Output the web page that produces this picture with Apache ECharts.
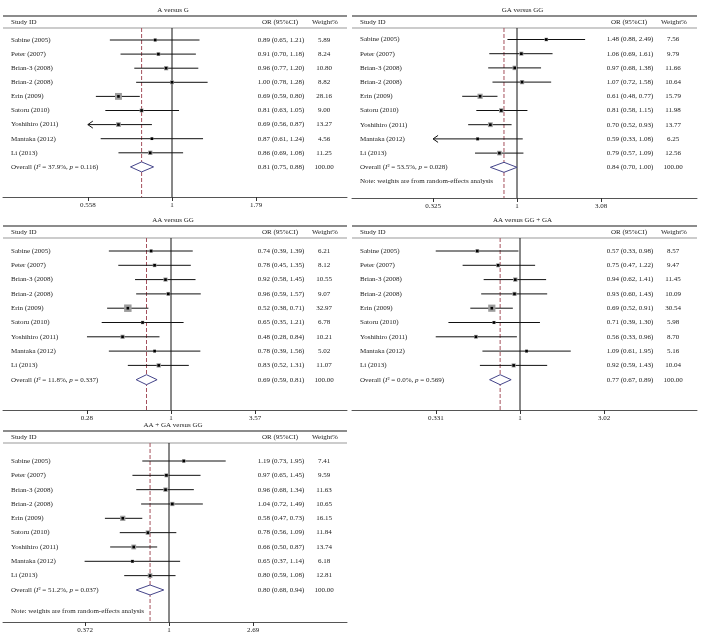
<!DOCTYPE html>
<html><head><meta charset="utf-8">
<script src="https://cdn.jsdelivr.net/npm/echarts@6/dist/echarts.min.js"></script>
<style>html,body{margin:0;padding:0;background:#fff}#c{width:703px;height:637px}</style>
</head><body><div id="c"></div>
<script>
// ---------------- DATA ----------------
const studies = ['Sabine (2005)','Peter (2007)','Brian-3 (2008)','Brian-2 (2008)','Erin (2009)','Satoru (2010)','Yoshihiro (2011)','Mantaka (2012)','Li (2013)'];

const titleA = 'A versus G';
const orA = [0.89,0.91,0.96,1.00,0.69,0.81,0.69,0.87,0.86];
const loA = [0.65,0.70,0.77,0.78,0.59,0.63,0.56,0.61,0.69];
const hiA = [1.21,1.18,1.20,1.28,0.80,1.05,0.87,1.24,1.08];
const wA  = [5.89,8.24,10.80,8.82,28.16,9.00,13.27,4.56,11.25];
const overallA = [0.81,0.75,0.88];
const hetA = ['37.9%','0.116'];
const ticksA = [0.558,1,1.79];
const tickLabelsA = ['0.558','1','1.79'];
const arrowsA = [6];

const titleB = 'GA versus GG';
const orB = [1.48,1.06,0.97,1.07,0.61,0.81,0.70,0.59,0.79];
const loB = [0.88,0.69,0.68,0.72,0.48,0.58,0.52,0.33,0.57];
const hiB = [2.49,1.61,1.38,1.58,0.77,1.15,0.93,1.08,1.09];
const wB  = [7.56,9.79,11.66,10.64,15.79,11.98,13.77,6.25,12.56];
const overallB = [0.84,0.70,1.00];
const hetB = ['53.5%','0.028'];
const ticksB = [0.325,1,3.08];
const tickLabelsB = ['0.325','1','3.08'];
const arrowsB = [7];

const titleC = 'AA versus GG';
const orC = [0.74,0.78,0.92,0.96,0.52,0.65,0.48,0.78,0.83];
const loC = [0.39,0.45,0.58,0.59,0.38,0.35,0.28,0.39,0.52];
const hiC = [1.39,1.35,1.45,1.57,0.71,1.21,0.84,1.56,1.31];
const wC  = [6.21,8.12,10.55,9.07,32.97,6.78,10.21,5.02,11.07];
const overallC = [0.69,0.59,0.81];
const hetC = ['11.8%','0.337'];
const ticksC = [0.28,1,3.57];
const tickLabelsC = ['0.28','1','3.57'];
const arrowsC = [];

const titleD = 'AA versus GG + GA';
const orD = [0.57,0.75,0.94,0.93,0.69,0.71,0.56,1.09,0.92];
const loD = [0.33,0.47,0.62,0.60,0.52,0.39,0.33,0.61,0.59];
const hiD = [0.98,1.22,1.41,1.43,0.91,1.30,0.96,1.95,1.43];
const wD  = [8.57,9.47,11.45,10.09,30.54,5.98,8.70,5.16,10.04];
const overallD = [0.77,0.67,0.89];
const hetD = ['0.0%','0.569'];
const ticksD = [0.331,1,3.02];
const tickLabelsD = ['0.331','1','3.02'];
const arrowsD = [];

const titleE = 'AA + GA versus GG';
const orE = [1.19,0.97,0.96,1.04,0.58,0.78,0.66,0.65,0.80];
const loE = [0.73,0.65,0.68,0.72,0.47,0.56,0.50,0.37,0.59];
const hiE = [1.95,1.45,1.34,1.49,0.73,1.09,0.87,1.14,1.08];
const wE  = [7.41,9.59,11.63,10.65,16.15,11.84,13.74,6.18,12.81];
const overallE = [0.80,0.68,0.94];
const hetE = ['51.2%','0.037'];
const ticksE = [0.372,1,2.69];
const tickLabelsE = ['0.372','1','2.69'];
const arrowsE = [];

const noteText = 'Note: weights are from random-effects analysis';

// ---------------- LAYOUT ----------------
const panels = [
  {title:titleA, or:orA, lo:loA, hi:hiA, w:wA, overall:overallA, het:hetA, ticks:ticksA, tickLabels:tickLabelsA, arrows:arrowsA, note:null,
   left:3, width:344, top:28, first:40, step:14.1, axisY:197, one:169},
  {title:titleB, or:orB, lo:loB, hi:hiB, w:wB, overall:overallB, het:hetB, ticks:ticksB, tickLabels:tickLabelsB, arrows:arrowsB, note:10.0,
   left:352, width:345, top:28, first:39.5, step:14.2, axisY:198, one:165},
  {title:titleC, or:orC, lo:loC, hi:hiC, w:wC, overall:overallC, het:hetC, ticks:ticksC, tickLabels:tickLabelsC, arrows:arrowsC, note:null,
   left:3, width:344, top:238, first:251, step:14.3, axisY:410, one:168},
  {title:titleD, or:orD, lo:loD, hi:hiD, w:wD, overall:overallD, het:hetD, ticks:ticksD, tickLabels:tickLabelsD, arrows:arrowsD, note:null,
   left:352, width:345, top:238, first:251, step:14.3, axisY:410, one:168},
  {title:titleE, or:orE, lo:loE, hi:hiE, w:wE, overall:overallE, het:hetE, ticks:ticksE, tickLabels:tickLabelsE, arrows:arrowsE, note:10.5,
   left:3, width:344, top:443, first:461, step:14.33, axisY:622, one:166}
];
const FONT = '"Liberation Serif", "DejaVu Serif", serif';
const FS = 7;
const TXT = '#222';
const TICK_GAP = 84;

const grids = [], xAxes = [], yAxes = [], series = [], graphics = [];

panels.forEach((p, k) => {
  const ppl = TICK_GAP / Math.log(p.ticks[2]);
  const xmin = Math.exp(-p.one / ppl);
  const xmax = Math.exp((p.width - p.one) / ppl);
  const ymin = -(p.first - p.top) / p.step;
  const ymax = (p.axisY - p.first) / p.step;
  grids.push({left:p.left, top:p.top, width:p.width, height:p.axisY - p.top, containLabel:false});
  xAxes.push({
    type:'log', gridIndex:k, min:xmin, max:xmax, logBase:10,
    axisLine:{show:true, onZero:false, lineStyle:{color:'#555', width:1}},
    axisTick:{show:true, customValues:p.ticks, length:4, inside:false, lineStyle:{color:'#333', width:1}},
    axisLabel:{show:true, customValues:p.ticks, margin:5, fontSize:FS, fontFamily:FONT, color:TXT,
      formatter:(v) => {
        let best = 0, bd = Infinity;
        p.ticks.forEach((t, j) => { const d = Math.abs(Math.log(v) - Math.log(t)); if (d < bd) { bd = d; best = j; } });
        return p.tickLabels[best];
      }},
    splitLine:{show:false}, minorTick:{show:false}, minorSplitLine:{show:false}
  });
  yAxes.push({type:'value', gridIndex:k, min:ymin, max:ymax, inverse:true, show:false, splitLine:{show:false}});

  // data rows: kind 3 = reference lines, 0 = study, 1 = overall, 2 = note
  const data = [];
  data.push({value:[p.overall[0], p.overall[1], p.overall[2], 0, 0, 3]});
  studies.forEach((s, i) => data.push({value:[p.or[i], p.lo[i], p.hi[i], p.w[i], i, 0], idx:i}));
  data.push({value:[p.overall[0], p.overall[1], p.overall[2], 100, 9, 1]});
  if (p.note !== null) data.push({value:[1, 1, 1, 0, p.note, 2]});

  series.push({
    type:'custom', xAxisIndex:k, yAxisIndex:k, clip:false, silent:true, animation:false,
    data:data,
    renderItem:(params, api) => {
      const cs = params.coordSys;
      const kind = api.value(5);
      const row = api.value(4);
      const y = api.coord([1, row])[1];
      const txt = (text, x, align) => ({type:'text', x:x, y:y,
        style:{text:text, fill:TXT, fontSize:FS, fontFamily:FONT, align:align, verticalAlign:'middle'}});
      if (kind === 3) {
        const x1 = api.coord([1, 0])[0];
        const xo = api.coord([api.value(0), 0])[0];
        return {type:'group', children:[
          {type:'line', shape:{x1:x1, y1:cs.y, x2:x1, y2:cs.y + cs.height}, style:{stroke:'#111', lineWidth:1}},
          {type:'line', shape:{x1:xo, y1:cs.y, x2:xo, y2:cs.y + cs.height}, style:{stroke:'#a4505c', lineWidth:1, lineDash:[4,2]}}
        ]};
      }
      if (kind === 2) {
        return {type:'group', children:[txt(noteText, cs.x + 8, 'left')]};
      }
      const orv = api.value(0), lov = api.value(1), hiv = api.value(2), wv = api.value(3);
      const xo = api.coord([orv, row])[0];
      let xl = api.coord([lov, row])[0];
      const xh = api.coord([hiv, row])[0];
      const children = [];
      const orText = orv.toFixed(2) + ' (' + lov.toFixed(2) + ', ' + hiv.toFixed(2) + ')';
      if (kind === 0) {
        const i = row;
        const arrow = p.arrows.indexOf(i) >= 0;
        if (arrow) xl = api.coord([p.ticks[0], row])[0];
        children.push({type:'line', shape:{x1:xl, y1:y, x2:xh, y2:y}, style:{stroke:'#111', lineWidth:1}});
        if (arrow) children.push({type:'polyline', shape:{points:[[xl+5, y-3.5],[xl, y],[xl+5, y+3.5]]}, style:{stroke:'#111', lineWidth:1, fill:null}});
        const s = 1.3 * Math.sqrt(wv);
        children.push({type:'rect', shape:{x:xo - s/2, y:y - s/2, width:s, height:s}, style:{fill:'#9c9c9c'}});
        children.push({type:'rect', shape:{x:xo - 1.3, y:y - 1.3, width:2.6, height:2.6}, style:{fill:'#000'}});
        children.push(txt(studies[i], cs.x + 8, 'left'));
      } else {
        const h = 5;
        children.push({type:'polygon', shape:{points:[[xl, y],[xo, y - h],[xh, y],[xo, y + h]]},
          style:{fill:'#fff', stroke:'#45458a', lineWidth:1}});
        children.push({type:'text', x:cs.x + 8, y:y, style:{
          text:'Overall ({it|I}² = ' + p.het[0] + ', {it|p} = ' + p.het[1] + ')',
          fill:TXT, fontSize:FS, fontFamily:FONT, align:'left', verticalAlign:'middle',
          rich:{it:{fontStyle:'italic', fontSize:FS, fontFamily:FONT, fill:TXT}}}});
      }
      children.push(txt(orText, cs.x + 278, 'center'));
      children.push(txt(wv.toFixed(2), cs.x + 321, 'center'));
      return {type:'group', children:children};
    }
  });

  // titles, headers, rules
  const gl = p.left, gw = p.width, t = p.top;
  graphics.push({type:'text', x:gl + gw/2 - 2, y:t - 18, style:{text:p.title, fill:TXT, fontSize:FS, fontFamily:FONT, align:'center', verticalAlign:'middle'}});
  graphics.push({type:'line', shape:{x1:gl, y1:t - 12, x2:gl + gw, y2:t - 12}, style:{stroke:'#666', lineWidth:1.5}});
  graphics.push({type:'line', shape:{x1:gl, y1:t, x2:gl + gw, y2:t}, style:{stroke:'#999', lineWidth:1}});
  graphics.push({type:'text', x:gl + 8, y:t - 6, style:{text:'Study ID', fill:TXT, fontSize:FS, fontFamily:FONT, align:'left', verticalAlign:'middle'}});
  graphics.push({type:'text', x:gl + 277, y:t - 6, style:{text:'OR (95%CI)', fill:TXT, fontSize:FS, fontFamily:FONT, align:'center', verticalAlign:'middle'}});
  graphics.push({type:'text', x:gl + 322, y:t - 6, style:{text:'Weight%', fill:TXT, fontSize:FS, fontFamily:FONT, align:'center', verticalAlign:'middle'}});
});

const chart = echarts.init(document.getElementById('c'), null, {renderer:'canvas'});
chart.setOption({
  backgroundColor:'#fff',
  animation:false,
  grid:grids, xAxis:xAxes, yAxis:yAxes, series:series,
  graphic:{elements:graphics}
});
</script></body></html>
